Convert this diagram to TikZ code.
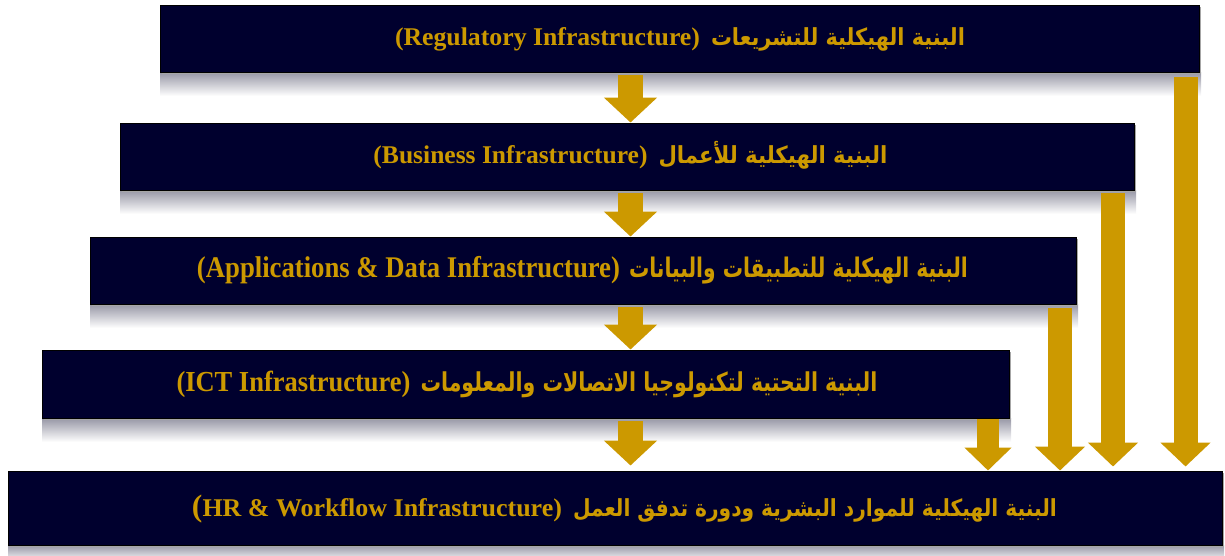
\documentclass[tikz,border=0pt]{standalone}
\usepackage{fontspec}
\usepackage{graphicx}
\usetikzlibrary{arrows.meta}
\TeXXeTstate=1
\newfontfamily\arfont[Script=Arabic]{DejaVu Sans}
\newfontfamily\enfont{Liberation Serif}
\definecolor{navy}{RGB}{0,0,46}
\definecolor{gold}{RGB}{204,153,0}
\definecolor{refl}{RGB}{150,150,165}
% #1 width, #2 font size, #3 text
\newcommand{\entxt}[3]{\resizebox{#1}{\height}{\fontsize{#2}{#2}\enfont\bfseries #3}}
\newcommand{\artxt}[3]{\resizebox{#1}{\height}{\fontsize{#2}{#2}\arfont\bfseries #3}}
\tikzset{
  box/.style={draw=black, line width=1pt, fill=navy, inner sep=0pt,
    preaction={fill=gray!70, transform canvas={xshift=2pt,yshift=-1.5pt}}},
  lbl/.style={text=gold, inner sep=0pt, anchor=base},
  flow/.style={draw=gold, line width=25pt, line cap=butt, -{Triangle[width=52pt,length=25pt]}},
  flowr/.style={draw=gold, line width=24pt, line cap=butt, -{Triangle[width=49pt,length=24pt]}},
  flows/.style={draw=gold, line width=22pt, line cap=butt, -{Triangle[width=46pt,length=23pt]}}
}
\begin{document}
\begin{tikzpicture}[x=1pt,y=-1pt]
\useasboundingbox (0,0) rectangle (1225,555);
% reflections
\shade[top color=refl, bottom color=white] (160,72) rectangle (1201,96);
\shade[top color=refl, bottom color=white] (120,190) rectangle (1136,214);
\shade[top color=refl, bottom color=white] (90,304) rectangle (1078,328);
\shade[top color=refl, bottom color=white] (42,418) rectangle (1011,442);
\shade[top color=refl, bottom color=white!60!refl] (8,545) rectangle (1224,555);
% boxes
\node[box, minimum width=1039pt, minimum height=67pt] (b1) at (679.5,38.5) {};
\node[box, minimum width=1014pt, minimum height=67pt] (b2) at (627,156.5) {};
\node[box, minimum width=986pt, minimum height=67pt] (b3) at (583,270.5) {};
\node[box, minimum width=967pt, minimum height=68pt] (b4) at (525.5,384) {};
\node[box, minimum width=1214pt, minimum height=74pt] (b5) at (615,508) {};
% texts
\node[lbl] (t1) at (680,45) {\entxt{305pt}{25.5pt}{(Regulatory Infrastructure)}\hspace{11pt}\artxt{254pt}{23.5pt}{\beginR البنية الهيكلية للتشريعات\endR}};
\node[lbl] (t2) at (630.5,163) {\entxt{274pt}{25.5pt}{(Business Infrastructure)}\hspace{11pt}\artxt{229pt}{23.5pt}{\beginR البنية الهيكلية للأعمال\endR}};
\node[lbl] (t3) at (582.5,277) {\entxt{423pt}{30pt}{(Applications \& Data Infrastructure)}\hspace{9pt}\artxt{339pt}{27pt}{\beginR البنية الهيكلية للتطبيقات والبيانات\endR}};
\node[lbl] (t4) at (527,391) {\entxt{234pt}{29pt}{(ICT Infrastructure)}\hspace{10pt}\artxt{457pt}{26pt}{\beginR البنية التحتية لتكنولوجيا الاتصالات والمعلومات\endR}};
\node[lbl] (t5) at (624.5,516) {\entxt{370pt}{25.5pt}{{\fontsize{31pt}{31pt}\selectfont(}HR \& Workflow Infrastructure)}\hspace{11pt}\artxt{484pt}{23.5pt}{\beginR البنية الهيكلية للموارد البشرية ودورة تدفق العمل\endR}};
% central arrows
\coordinate (c1) at (630.5,75);
\coordinate (c2) at (630.5,193);
\coordinate (c3) at (630.5,307);
\coordinate (c4) at (630.5,421);
\draw[flow] (c1) -- (c1 |- b2.north);
\draw[flow] (c2) -- (c2 |- b3.north);
\draw[flow] (c3) -- (c3 |- b4.north);
\draw[flow] (c4) -- ([yshift=5pt]c4 |- b5.north);
% right arrows
\coordinate (r1) at (1185.5,77);
\coordinate (r2) at (1113,193);
\coordinate (r3) at (1060,308);
\coordinate (r4) at (988,419);
\draw[flowr] (r1) -- ([yshift=4pt]r1 |- b5.north);
\draw[flowr] (r2) -- ([yshift=4pt]r2 |- b5.north);
\draw[flowr] (r3) -- (r3 |- b5.north);
\draw[flows] (r4) -- (r4 |- b5.north);
\end{tikzpicture}
\end{document}
